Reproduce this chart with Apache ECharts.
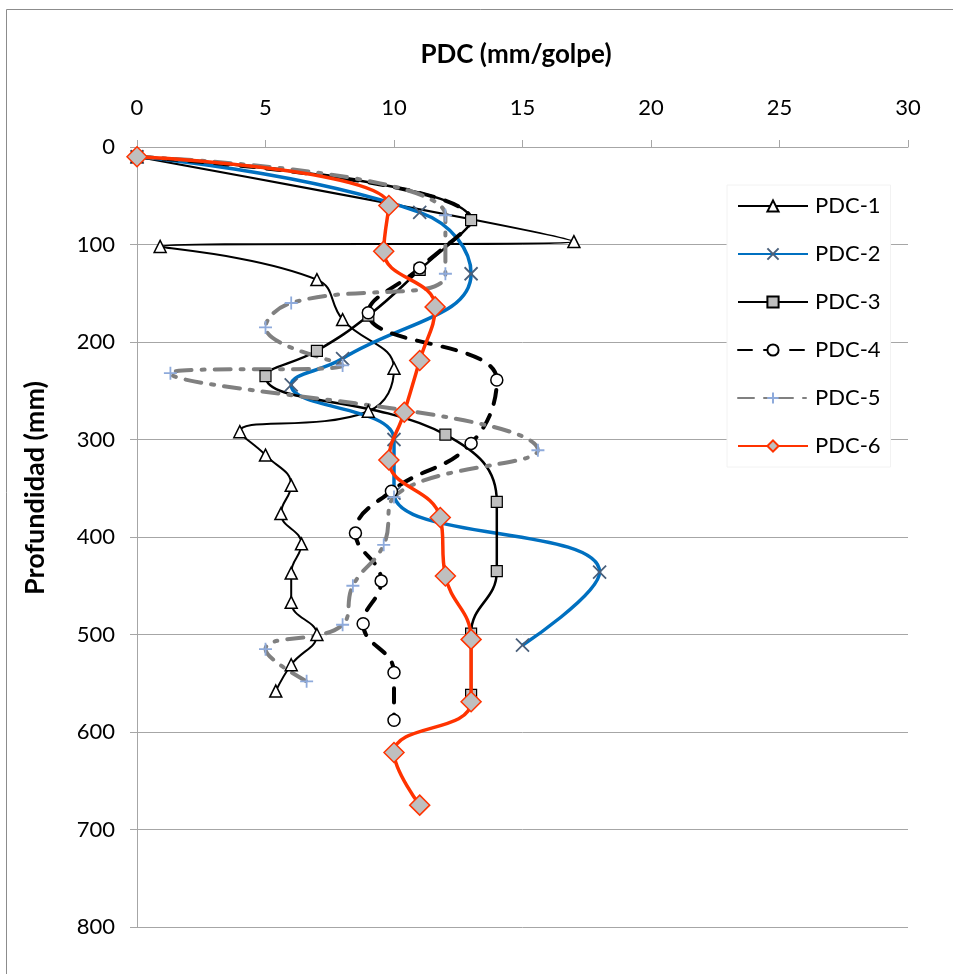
<!DOCTYPE html>
<html>
<head>
<meta charset="utf-8">
<script src="https://cdn.jsdelivr.net/npm/echarts@6/dist/echarts.min.js"></script>
<style>
html,body{margin:0;padding:0;background:#fff;}
#chart{width:953px;height:974px;}
</style>
</head>
<body>
<div id="chart"></div>
<script>
// Data: [PDC (mm/golpe), Profundidad (mm)]
const seriesNames = ["PDC-1", "PDC-2", "PDC-3", "PDC-4", "PDC-5", "PDC-6"];
const pdc1 = [[0,10],[17,97],[0.9,102],[7,136],[8,177],[10,227],[9,271],[4,292],[5,316],[6,347],[5.6,376],[6.4,407],[6,437],[6,467],[7,500],[6,531],[5.4,558]];
const pdc2 = [[0,10],[11,67],[13,130],[8,217],[6,244],[10,300],[10,355],[18,436],[15,511]];
const pdc3 = [[0,10],[13,75],[11,126],[9,173],[7,209],[5,235],[12,295],[14,364],[14,435],[13,499],[13,562]];
const pdc4 = [[0,10],[13,75],[11,124],[9,170],[14,239],[13,304],[9.9,353],[8.5,396],[9.5,445],[8.8,489],[10,539],[10,588]];
const pdc5 = [[0,10],[12,70],[12,130],[6,160],[5,185],[8,224],[1.3,232],[15.6,311],[10,359],[9.6,408],[8.4,450],[8,490],[5,515],[6.6,548]];
const pdc6 = [[0,10],[9.8,60],[9.6,107],[11.6,164],[11,219],[10.4,272],[9.8,321],[11.8,380],[12,440],[13,505],[13,569],[10,621],[11,675]];
const xTicks = {min: 0, max: 30, interval: 5};
const yTicks = {min: 0, max: 800, interval: 100};
const xTitle = 'PDC (mm/golpe)';
const yTitle = 'Profundidad (mm)';

const FONT = 'Lato';
const chart = echarts.init(document.getElementById('chart'));
const X_SYM = 'path://M0,0 L10,10 M10,0 L0,10';
const PLUS_SYM = 'path://M5,0 L5,10 M0,5 L10,5';

// PDC-4 marker at its 2nd point is hidden behind PDC-3's square in the reference
const pdc4Data = pdc4.map((p, i) => i === 1 ? {value: p, symbol: 'none'} : p);

const option = {
  backgroundColor: '#ffffff',
  animation: false,
  textStyle: {fontFamily: FONT},
  graphic: [
    {
      type: 'rect', left: 4, top: 7, shape: {x: 0, y: 0, width: 1000, height: 1000},
      style: {fill: 'none', stroke: '#8c8c8c', lineWidth: 1}, silent: true, z: -1
    },
    {
      type: 'text', x: 516, y: 55,
      style: {text: xTitle, font: 'bold 26px Lato', fill: '#000', textAlign: 'center', textVerticalAlign: 'middle'}
    },
    {
      type: 'text', x: 35, y: 488, rotation: Math.PI / 2,
      style: {text: yTitle, font: 'bold 27px Lato', fill: '#000', textAlign: 'center', textVerticalAlign: 'middle'}
    }
  ],
  grid: {left: 137, right: 45, top: 147, bottom: 47, containLabel: false},
  legend: {
    orient: 'vertical', left: 727, top: 185,
    itemWidth: 70, itemHeight: 14, itemGap: 26,
    padding: [10, 10, 10, 10],
    backgroundColor: '#ffffff', borderColor: '#f2f2f2', borderWidth: 1,
    textStyle: {fontFamily: FONT, fontSize: 22, color: '#000', padding: [0,0,0,2]},
    data: seriesNames
  },
  xAxis: {
    type: 'value', position: 'top', min: xTicks.min, max: xTicks.max, interval: xTicks.interval,
    axisLine: {show: true, lineStyle: {color: '#a6a6a6', width: 1}},
    axisTick: {show: true, inside: false, length: 7, lineStyle: {color: '#a6a6a6'}},
    axisLabel: {fontFamily: FONT, fontSize: 22, color: '#000', margin: 28},
    splitLine: {show: false}
  },
  yAxis: {
    type: 'value', inverse: true, min: yTicks.min, max: yTicks.max, interval: yTicks.interval,
    axisLine: {show: true, lineStyle: {color: '#a6a6a6', width: 1}},
    axisTick: {show: true, inside: false, length: 7, lineStyle: {color: '#a6a6a6'}},
    axisLabel: {fontFamily: FONT, fontSize: 22, color: '#000', margin: 22},
    splitLine: {show: true, lineStyle: {color: '#a6a6a6', width: 1}}
  },
  series: [
    {
      name: 'PDC-1', type: 'line', data: pdc1, smooth: 0.45,
      symbol: 'triangle', symbolSize: 12, showAllSymbol: true,
      lineStyle: {color: '#000', width: 2},
      itemStyle: {color: '#ffffff', borderColor: '#000', borderWidth: 1.5}
    },
    {
      name: 'PDC-2', type: 'line', data: pdc2, smooth: 0.45,
      symbol: X_SYM, symbolSize: 13, showAllSymbol: true,
      lineStyle: {color: '#0070C0', width: 3.5},
      itemStyle: {color: '#4a5f7a', borderColor: '#4a5f7a', borderWidth: 1.8}
    },
    {
      name: 'PDC-3', type: 'line', data: pdc3, smooth: 0.45, z: 3,
      symbol: 'rect', symbolSize: 11, showAllSymbol: true,
      lineStyle: {color: '#000', width: 2.5},
      itemStyle: {color: '#bfbfbf', borderColor: '#000', borderWidth: 1.2}
    },
    {
      name: 'PDC-4', type: 'line', data: pdc4Data, smooth: 0.45,
      symbol: 'circle', symbolSize: 12, showAllSymbol: true,
      lineStyle: {color: '#000', width: 4, type: [14, 12], cap: 'round'},
      itemStyle: {color: '#ffffff', borderColor: '#000', borderWidth: 1.5}
    },
    {
      name: 'PDC-5', type: 'line', data: pdc5, smooth: 0.45,
      symbol: PLUS_SYM, symbolSize: 13, showAllSymbol: true,
      lineStyle: {color: '#808080', width: 4, type: [16, 10, 3, 10], cap: 'round'},
      itemStyle: {color: '#8eaadb', borderColor: '#8eaadb', borderWidth: 1.8}
    },
    {
      name: 'PDC-6', type: 'line', data: pdc6, smooth: 0.45, z: 4,
      symbol: 'diamond', symbolSize: 20, showAllSymbol: true,
      lineStyle: {color: '#FF3300', width: 3.5},
      itemStyle: {color: '#bfbfbf', borderColor: '#FF3300', borderWidth: 1.5}
    }
  ]
};
chart.setOption(option);
</script>
</body>
</html>
